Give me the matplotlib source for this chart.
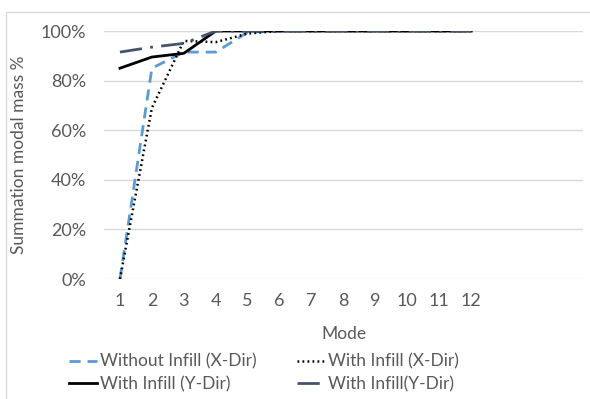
import matplotlib
matplotlib.use("Agg")
import matplotlib.pyplot as plt
from matplotlib.patches import Rectangle
from matplotlib.ticker import PercentFormatter

plt.rcParams['font.family'] = ['Lato', 'DejaVu Sans']

modes = list(range(1, 13))
without_infill_x = [0, 85, 91.5, 91.5, 99.5, 100, 100, 100, 100, 100, 100, 100]
with_infill_x = [0, 69, 96, 95.5, 99, 100, 100, 100, 100, 100, 100, 100]
with_infill_y = [85, 89.5, 91, 100, 100, 100, 100, 100, 100, 100, 100, 100]
with_infill_y2 = [91.5, 93.5, 95, 100, 100, 100, 100, 100, 100, 100, 100, 100]
labels = ["Without Infill (X-Dir)", "With Infill (X-Dir)",
          "With Infill (Y-Dir)", "With Infill(Y-Dir)"]

text_color = "#595959"
grid_color = "#d9d9d9"

fig = plt.figure(figsize=(5.9, 3.99), dpi=100)
ax = fig.add_axes([104/590, 1-279/399, (583-104)/590, (279-31)/399])

l1, = ax.plot(modes, without_infill_x, color="#5b9bd5", lw=2, ls=(0, (4, 2.5)))
l2, = ax.plot(modes, with_infill_x, color="black", lw=1.8, ls=(0, (0.7, 1.3)))
l3, = ax.plot(modes, with_infill_y, color="black", lw=2, ls="-")
l4, = ax.plot(modes, with_infill_y2, color="#44546a", lw=2,
              ls=(0, (8, 3, 1, 3)))

ax.set_xlim(0.5, 15.5)
ax.set_ylim(0, 100)
ax.set_yticks(range(0, 101, 20))
ax.yaxis.set_major_formatter(PercentFormatter(decimals=0))
ax.set_xticks(modes)
ax.set_xticklabels([str(m) for m in modes])
ax.tick_params(length=0, labelsize=13, colors=text_color, pad=10)
ax.tick_params(axis='y', pad=13)
ax.grid(axis='y', color=grid_color, lw=1)
ax.set_axisbelow(True)
for s in ax.spines.values():
    s.set_visible(False)

ax.set_xlabel("Mode", fontsize=12.5, color=text_color, labelpad=12)
ax.set_ylabel("Summation modal mass %", fontsize=12.5, color=text_color, labelpad=10)

# legend filled row by row: two entries per row
handles = [l1, l3, l2, l4]
order_labels = [labels[0], labels[2], labels[1], labels[3]]
leg = fig.legend(handles, order_labels, ncol=2, loc="lower left",
                 bbox_to_anchor=(62/590, 0.0), frameon=False, fontsize=12.5,
                 handlelength=1.6, handletextpad=0.2, columnspacing=2.3,
                 labelspacing=0.35, borderaxespad=0.0)
for t in leg.get_texts():
    t.set_color(text_color)

fig.patches.append(Rectangle((6/590, -0.1), 1.2, 1 - 12/399 + 0.1,
                             transform=fig.transFigure, fill=False,
                             edgecolor=grid_color, lw=1))

fig.savefig("out.png", dpi=100)
